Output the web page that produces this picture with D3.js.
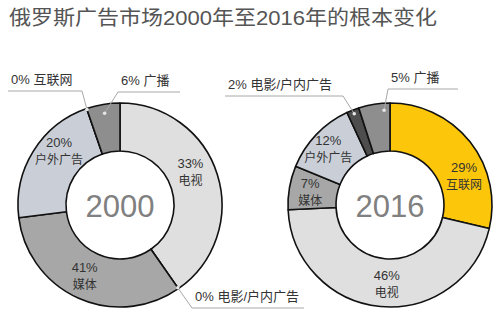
<!DOCTYPE html>
<html>
<head>
<meta charset="utf-8">
<script src="https://cdn.jsdelivr.net/npm/d3@7"></script>
<style>
  body { margin: 0; background: #fff; }
  svg { display: block; }
  text { font-family: "Liberation Sans", "Noto Sans CJK SC", sans-serif; }
</style>
</head>
<body>
<svg id="chart" width="500" height="324"></svg>
<script>
// data
let title = "俄罗斯广告市场2000年至2016年的根本变化";

let cats2000 = ["电视", "电影/户内广告", "媒体", "户外广告", "互联网", "广播"];
let shares2000 = [40.3, 0, 32.7, 21.7, 0, 5.3];      // arc sizes as drawn
let pct2000 = ["33%", "0%", "41%", "20%", "0%", "6%"]; // printed labels

let cats2016 = ["互联网", "电视", "媒体", "户外广告", "电影/户内广告", "广播"];
let shares2016 = [29, 46, 7, 12, 2, 5];
let pct2016 = ["29%", "46%", "7%", "12%", "2%", "5%"];

let colByCat = {
  "电视": "#dfdfdf",
  "电影/户内广告": "#4d4d4d",
  "媒体": "#a7a7a7",
  "户外广告": "#c9ced7",
  "互联网": "#fcc60a",
  "广播": "#8e8e8e"
};

let svg = d3.select("#chart");
let rOut = 102, rIn = 54;

svg.append("text").attr("x", 9).attr("y", 25)
  .attr("font-size", 20).attr("fill", "#555")
  .attr("textLength", 428).attr("lengthAdjust", "spacingAndGlyphs")
  .text(title);

function donut(cx, cy, year, cats, shares, pcts, inside, callouts) {
  let g = svg.append("g").attr("transform", "translate(" + cx + "," + cy + ")");
  let pie = d3.pie().sort(null).value(d => d.v);
  let arcs = pie(cats.map((c, i) => ({ c: c, v: shares[i], p: pcts[i] })));
  let arc = d3.arc().innerRadius(rIn).outerRadius(rOut);

  g.selectAll("path").data(arcs).enter().append("path")
    .attr("d", arc)
    .attr("fill", d => colByCat[d.data.c])
    .attr("stroke", "#111").attr("stroke-width", 1.6)
    .attr("stroke-linejoin", "round");

  g.append("text").attr("text-anchor", "middle").attr("y", 12)
    .attr("font-size", 31).attr("fill", "#808080").text(year);

  // labels inside the ring
  inside.forEach(l => {
    let a = arcs[l.i];
    let ang = (a.startAngle + a.endAngle) / 2 + l.nudge * Math.PI / 180;
    let x = Math.sin(ang) * l.r, y = -Math.cos(ang) * l.r;
    g.append("text").attr("x", x).attr("y", y - 3).attr("text-anchor", "middle")
      .attr("font-size", 13).attr("fill", "#333").text(a.data.p);
    g.append("text").attr("x", x).attr("y", y + 14).attr("text-anchor", "middle")
      .attr("font-size", 12).attr("fill", "#333").text(a.data.c);
  });

  // callouts with leader lines
  callouts.forEach(l => {
    let a = arcs[l.i];
    let ang = a.startAngle + (a.endAngle - a.startAngle) * l.f;
    let ex = Math.sin(ang) * l.r, ey = -Math.cos(ang) * l.r;
    let ox = l.elbow[0] - cx, oy = l.elbow[1] - cy;
    let endX = l.end - cx;
    g.append("path")
      .attr("d", "M" + ex + "," + ey + "L" + ox + "," + oy + "L" + endX + "," + oy)
      .attr("fill", "none").attr("stroke", "#a8a8a8").attr("stroke-width", 1);
    g.append("circle").attr("cx", ex).attr("cy", ey).attr("r", 1.8).attr("fill", "#e6e6e6");
    let tx = Math.min(ox, endX) + 3;
    g.append("text").attr("x", tx).attr("y", oy - 7)
      .attr("font-size", 13).attr("fill", "#333")
      .text(a.data.p + " " + a.data.c);
  });
}

donut(120, 205, "2000", cats2000, shares2000, pct2000,
  [{ i: 0, r: 78, nudge: -8 }, { i: 2, r: 78, nudge: 3 }, { i: 3, r: 82, nudge: 10 }],
  [{ i: 4, f: 0.5, r: 101, elbow: [82, 91], end: 8 },
   { i: 5, f: 0.5, r: 93, elbow: [118, 92], end: 180 },
   { i: 1, f: 0.5, r: 101, elbow: [192, 308], end: 304 }]);

donut(390, 205, "2016", cats2016, shares2016, pct2016,
  [{ i: 0, r: 80, nudge: 16 }, { i: 1, r: 78, nudge: -3 }, { i: 2, r: 81, nudge: 0 }, { i: 3, r: 84, nudge: -1 }],
  [{ i: 4, f: 0.5, r: 98, elbow: [343, 96], end: 225 },
   { i: 5, f: 0.8, r: 95, elbow: [388, 89], end: 458 }]);
</script>
</body>
</html>
